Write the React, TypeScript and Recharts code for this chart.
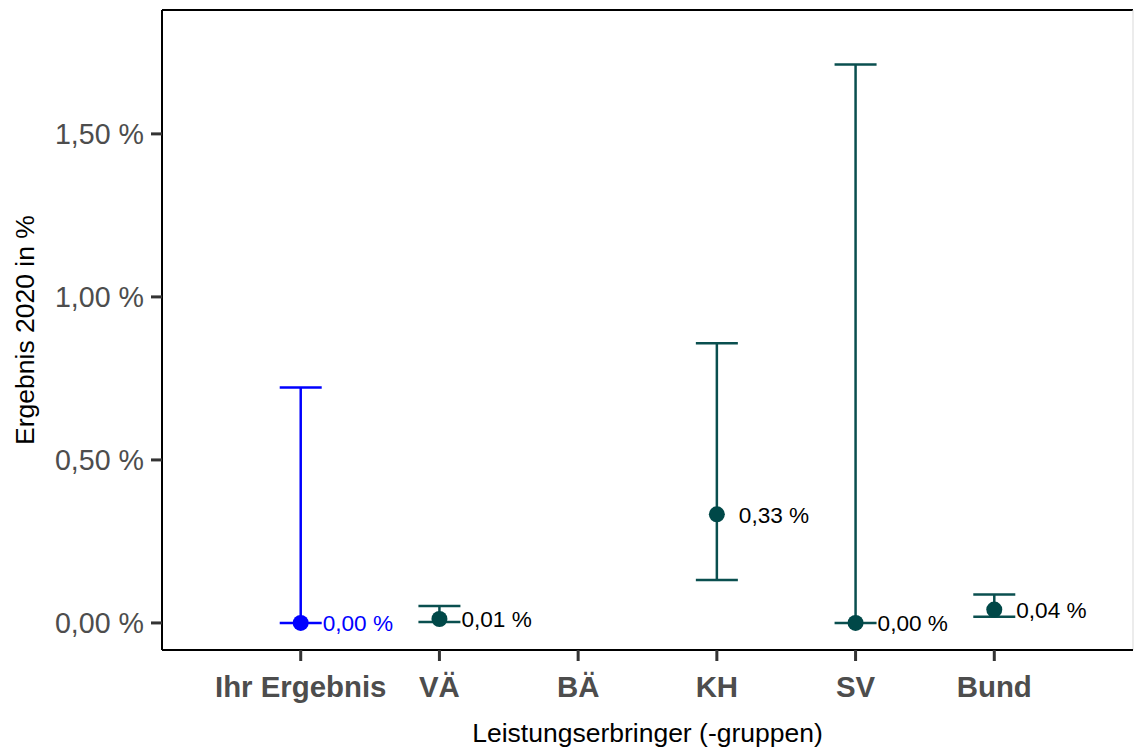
import { ErrorBar, ReferenceLine, Scatter, ScatterChart, XAxis, YAxis } from 'recharts'

const categories = ['Ihr Ergebnis', 'VÄ', 'BÄ', 'KH', 'SV', 'Bund']
const values: (number | null)[] = [0.0, 0.012, null, 0.333, 0.0, 0.041]
const lower: (number | null)[] = [0.0, 0.003, null, 0.132, 0.0, 0.019]
const upper: (number | null)[] = [0.722, 0.052, null, 0.858, 1.713, 0.087]
const yTicks = [0, 0.5, 1, 1.5]
const xTicks = [1, 2, 3, 4, 5, 6]
const yDomain: [number, number] = [-0.083, 1.88]
const xDomain: [number, number] = [0, 7]

const FONT = '"Liberation Sans", Arial, Helvetica, sans-serif'
const BLUE = '#0000FF'
const TEAL = '#0A4F4F'

const fmt = (v: number) => `${v.toFixed(2).replace('.', ',')} %`

const rows = categories
  .map((name, i) => ({
    x: i + 1,
    name,
    y: values[i],
    err: values[i] == null ? [0, 0] : [values[i]! - lower[i]!, upper[i]! - values[i]!],
  }))
  .filter((r) => r.y != null)

const ownData = rows.filter((r) => r.x === 1)
const groupData = rows.filter((r) => r.x !== 1)

function pointShape(color: string, textColor: string) {
  return (props: any) => {
    const { cx, cy, payload } = props
    return (
      <g>
        <circle cx={cx} cy={cy} r={8} fill={color} />
        <text
          x={cx + 22}
          y={cy}
          dy="0.36em"
          fill={textColor}
          fontSize={22.6}
          fontFamily={FONT}
        >
          {fmt(payload.y)}
        </text>
      </g>
    )
  }
}

export default function App() {
  return (
    <div style={{ position: 'absolute', left: 0, top: 0, background: '#fff' }}>
      <ScatterChart
        width={1134}
        height={753}
        margin={{ top: 10, right: 1, bottom: 0, left: 0 }}
      >
        <XAxis
          type="number"
          dataKey="x"
          domain={xDomain}
          ticks={xTicks}
          tickFormatter={(v: number) => categories[v - 1] ?? ''}
          height={103}
          tickSize={11}
          tickMargin={15}
          tick={{ fill: '#4D4D4D', fontSize: 29.4, fontWeight: 'bold', fontFamily: FONT }}
          tickLine={{ stroke: '#333', strokeWidth: 3 }}
          axisLine={{ stroke: '#000', strokeWidth: 2 }}
          label={{
            value: 'Leistungserbringer (-gruppen)',
            position: 'insideBottom',
            offset: 11,
            fill: '#000',
            fontSize: 26.5,
            fontFamily: FONT,
          }}
        />
        <YAxis
          type="number"
          dataKey="y"
          domain={yDomain}
          allowDataOverflow
          ticks={yTicks}
          tickFormatter={fmt}
          width={162}
          tickSize={11}
          tickMargin={7}
          tick={{ fill: '#4D4D4D', fontSize: 28.6, fontFamily: FONT }}
          tickLine={{ stroke: '#333', strokeWidth: 3 }}
          axisLine={{ stroke: '#000', strokeWidth: 2 }}
          label={{
            content: (p: any) => {
              const vb = p.viewBox || { x: 0, y: 10, height: 640 }
              const x = 34
              const y = vb.y + vb.height / 2
              return (
                <text
                  x={x}
                  y={y}
                  transform={`rotate(-90, ${x}, ${y})`}
                  textAnchor="middle"
                  fill="#000"
                  fontSize={26.5}
                  fontFamily={FONT}
                >
                  Ergebnis 2020 in %
                </text>
              )
            },
          }}
        />
        <ReferenceLine y={yDomain[1]} stroke="#000" strokeWidth={2} ifOverflow="extendDomain" />
        <ReferenceLine x={xDomain[1]} stroke="#d9d9d9" strokeWidth={1} ifOverflow="extendDomain" />
        <Scatter
          data={ownData}
          dataKey="y"
          fill={BLUE}
          isAnimationActive={false}
          shape={pointShape(BLUE, BLUE)}
        >
          <ErrorBar dataKey="err" direction="y" width={21} stroke={BLUE} strokeWidth={2.5} />
        </Scatter>
        <Scatter
          data={groupData}
          dataKey="y"
          fill={TEAL}
          isAnimationActive={false}
          shape={pointShape('#004848', '#000')}
        >
          <ErrorBar dataKey="err" direction="y" width={21} stroke={TEAL} strokeWidth={2.5} />
        </Scatter>
      </ScatterChart>
    </div>
  )
}
